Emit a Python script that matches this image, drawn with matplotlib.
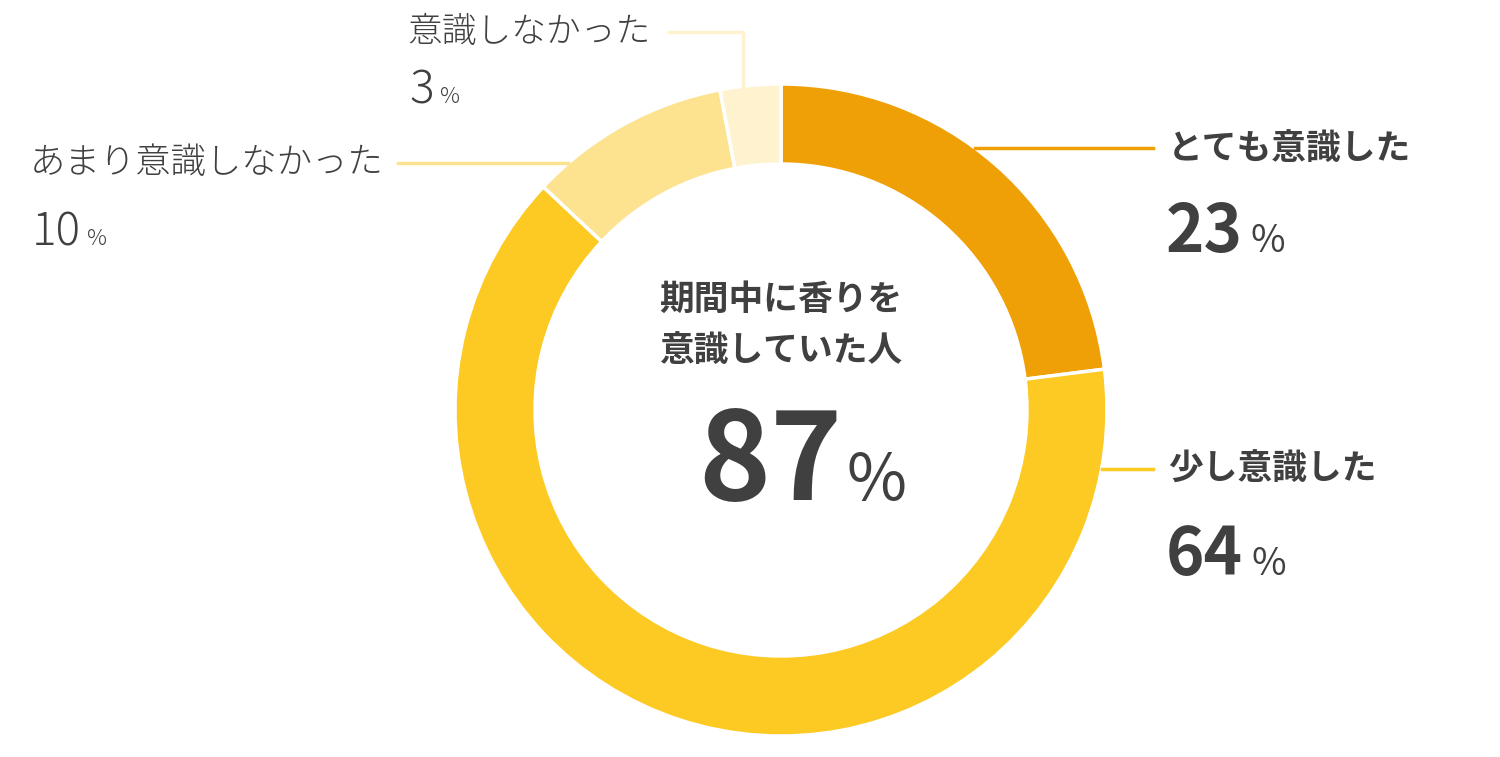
import matplotlib.pyplot as plt
import numpy as np

plt.rcParams['font.family'] = ['Noto Sans CJK JP', 'DejaVu Sans']

labels = ['とても意識した', '少し意識した', 'あまり意識しなかった', '意識しなかった']
values = [23, 64, 10, 3]
colors = ['#EFA006', '#FDC923', '#FDE28F', '#FFF3CF']
center_title = '期間中に香りを\n意識していた人'
center_value = 87

W, H = 1500, 757
fig = plt.figure(figsize=(W / 100, H / 100), dpi=100)
ax = fig.add_axes([0, 0, 1, 1])

cx, cy = 781, H - 410
R, ring = 326, 80
ax.pie(values, colors=colors, startangle=90, counterclock=False,
       center=(cx, cy), radius=R, frame=True,
       wedgeprops=dict(width=ring, edgecolor='white', linewidth=2.5))
ax.set_xlim(0, W)
ax.set_ylim(0, H)
ax.set_aspect('equal')
ax.axis('off')

txt = '#404040'
renderer = fig.canvas.get_renderer()


def edge_x(y, side):
    return cx + side * np.sqrt(R ** 2 - (y - cy) ** 2)


def number(x, y, val, weight, num_size, pct_size, gap=6, pct_weight='light'):
    # number plus a smaller % sign on the same baseline
    t = ax.text(x, y, str(val), fontsize=num_size, fontweight=weight, color=txt,
                ha='left', va='baseline')
    bb = t.get_window_extent(renderer).transformed(ax.transData.inverted())
    ax.text(bb.x1 + gap, y, '%', fontsize=pct_size, fontweight=pct_weight,
            color=txt, ha='left', va='baseline')


# right side (bold)
y1 = H - 148
ax.plot([edge_x(y1, 1), 1153], [y1, y1], color=colors[0], lw=2.5)
ax.text(1168, y1, labels[0], fontsize=25, fontweight='bold', color=txt, va='center')
number(1166, H - 252, values[0], 'bold', 47, 27, gap=8, pct_weight='normal')

y2 = H - 469
ax.plot([edge_x(y2, 1), 1153], [y2, y2], color=colors[1], lw=2.5)
ax.text(1168, y2, labels[1], fontsize=25, fontweight='bold', color=txt, va='center')
number(1166, H - 575, values[1], 'bold', 47, 27, gap=8, pct_weight='normal')

# left side (light)
y3 = H - 163
ax.plot([398, edge_x(y3, -1)], [y3, y3], color=colors[2], lw=2.5)
ax.text(30, y3, labels[2], fontsize=25.5, fontweight='light', color=txt, va='center')
number(32, H - 245, values[2], 'light', 33, 16, gap=6)

y4 = H - 32
x4 = 743
ax.plot([669, x4, x4], [y4, y4, cy + np.sqrt(R ** 2 - (x4 - cx) ** 2)],
        color=colors[3], lw=2.5)
ax.text(407, y4, labels[3], fontsize=25, fontweight='light', color=txt, va='center')
number(409, H - 103, values[3], 'light', 33, 16, gap=6)

# center
ax.text(cx, H - 325, center_title, fontsize=25, fontweight='bold', color=txt,
        ha='center', va='center', linespacing=1.6)
number(698, H - 500, center_value, 'bold', 88, 47, gap=4, pct_weight='normal')

fig.savefig('out.png', dpi=100, facecolor='white')
